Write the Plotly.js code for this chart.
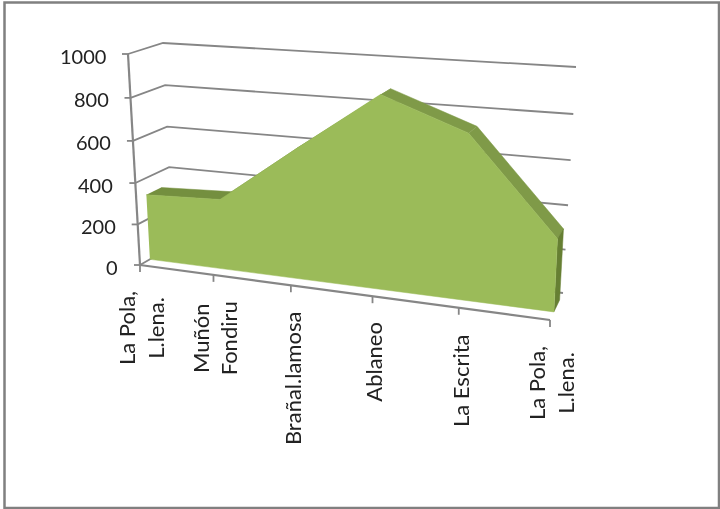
<!DOCTYPE html>
<html><head><meta charset="utf-8">
<script src="https://cdn.plot.ly/plotly-3.0.1.min.js"></script>
<style>html,body{margin:0;padding:0;background:#fff}#c{width:720px;height:509px;filter:blur(0.4px)}</style>
</head><body><div id="c"></div>
<script>
// Data
const categories = ["La Pola,<br>L.lena.", "Muñón<br>Fondiru", "Brañal.lamosa", "Ablaneo", "La Escrita", "La Pola,<br>L.lena."];
const elevations = [320, 335, 607, 873, 735, 320];
const valueTicks = [0, 200, 400, 600, 800, 1000];

// Oblique perspective scale: the library draws on a pixel-sized cartesian plane
const frontBottom = [[140,265],[550,320]], frontTop = [[128,54],[561,79]];
const backBottom  = [[173,246],[563,293]], backTop  = [[163,43],[576,67]];
const maxValue = 1000, lastCat = categories.length - 1, persp = 1.145, perspV = 1.05;
const mix = (a,b,t) => [a[0]+(b[0]-a[0])*t, a[1]+(b[1]-a[1])*t];
function project(i, v, d){
  const u = i/lastCat, t = u/(u+(1-u)*persp), r = v/maxValue, h = r/(r+(1-r)*perspV);
  const front = mix(mix(frontBottom[0],frontBottom[1],t), mix(frontTop[0],frontTop[1],t), h);
  const back  = mix(mix(backBottom[0],backBottom[1],t), mix(backTop[0],backTop[1],t), h);
  return mix(front, back, d);
}
const D0 = 0.30, D1 = 0.74;
const GRID = '#868686', TXT = '#222222', FONT = 'Lato, "Open Sans", sans-serif';
const traces = [];
function line(pts, w){
  traces.push({type:'scatter',mode:'lines',x:pts.map(p=>p[0]),y:pts.map(p=>p[1]),
    line:{color:GRID,width:w||1.8},hoverinfo:'skip',showlegend:false});
}
function face(pts, color){
  traces.push({type:'scatter',mode:'lines',x:pts.map(p=>p[0]),y:pts.map(p=>p[1]),fill:'toself',
    fillcolor:color,line:{color:color,width:0.5},hoverinfo:'skip',showlegend:false});
}
// gridlines on the side wall and back wall
valueTicks.forEach(v => {
  line([project(0,v,0), project(0,v,1), project(lastCat,v,1)]);
  const a = project(0,v,0);
  line([[a[0]-6,a[1]],a], 1.8);
});
// axes
line([project(0,0,0), project(0,maxValue,0)], 2.2);
line([project(0,0,0), project(lastCat,0,0)], 2.2);
categories.forEach((c,i)=>{ const a = project(i,0,0); line([a,[a[0],a[1]+7]],1.8); });

// area: top faces, end face, front face
elevations.slice(0,-1).forEach((v,i)=>{
  const w = elevations[i+1];
  const col = w < v ? '#7f9a48' : '#748f3f';
  face([project(i,v,D0),project(i+1,w,D0),project(i+1,w,D1),project(i,v,D1)], col);
});
face([project(lastCat,elevations[lastCat],D0),project(lastCat,elevations[lastCat],D1),
      project(lastCat,0,D1),project(lastCat,0,D0)], '#667f33');
face(elevations.map((v,i)=>project(i,v,D0)).concat([project(lastCat,0,D0),project(0,0,D0)]), '#9bbb59');

const annotations = [];
valueTicks.forEach(v=>{
  const a = project(0,v,0);
  annotations.push({x:a[0]-21,y:a[1]+1.5,xref:'x',yref:'y',text:String(v),showarrow:false,
    xanchor:'right',yanchor:'middle',font:{family:FONT,size:20,color:TXT},borderpad:0});
});
categories.forEach((c,i)=>{
  const a = project(i,0,0);
  annotations.push({x:a[0]+1,y:a[1]+25,xref:'x',yref:'y',text:c,showarrow:false,textangle:-90,
    xanchor:'center',yanchor:'top',font:{family:FONT,size:22,color:TXT},borderpad:0});
});
Plotly.newPlot('c',traces,{
  width:720,height:509,margin:{l:0,r:0,t:0,b:0},paper_bgcolor:'#fff',plot_bgcolor:'#fff',showlegend:false,
  xaxis:{range:[0,720],visible:false,fixedrange:true},
  yaxis:{range:[509,0],visible:false,fixedrange:true},
  annotations,
  shapes:[{type:'rect',xref:'x',yref:'y',x0:4.5,y0:2.5,x1:719,y1:508,line:{color:'#808080',width:2.5},fillcolor:'rgba(0,0,0,0)',layer:'below'}]
},{displayModeBar:false,staticPlot:true});
</script></body></html>
